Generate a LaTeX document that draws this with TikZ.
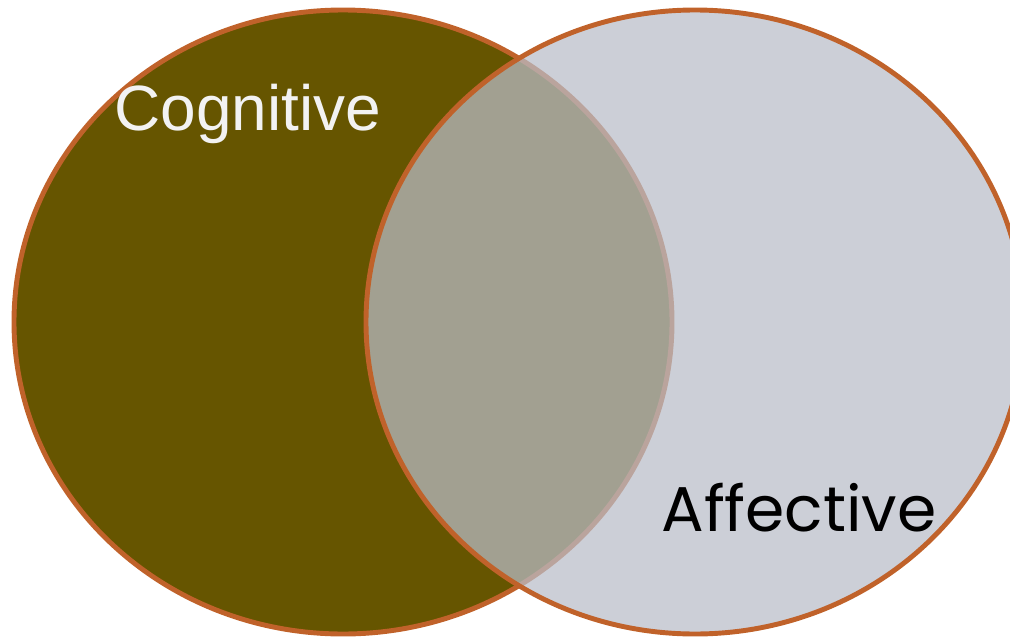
\documentclass[tikz,border=0pt]{standalone}
\usepackage{fontspec}
\setmainfont{Liberation Sans}
\newfontfamily\geofont{Poppins}
\definecolor{olive}{RGB}{102,85,0}
\definecolor{mist}{RGB}{185,189,200}
\definecolor{rim}{RGB}{192,98,42}
\definecolor{chalk}{RGB}{242,242,242}
\begin{document}
\begin{tikzpicture}[x=0.025cm,y=-0.025cm]
        \useasboundingbox (0,0) rectangle (1010,637);
        \clip (0,0) rectangle (1010,637);
        \filldraw [fill=olive, draw=rim, line width=3.5pt] (343,322) ellipse (329 and 312);
        \filldraw [fill=mist, fill opacity=0.73, draw=rim, line width=3.5pt] (695,322) ellipse (329 and 312);
        \path (248,130) node [anchor=base, text=chalk, font=\fontsize{45.5}{54}\selectfont] (cog) {Cognitive};
        \path (799,531) node [anchor=base, font=\geofont\fontsize{45}{54}\selectfont] (aff) {Affective};
    \end{tikzpicture}
\end{document}
